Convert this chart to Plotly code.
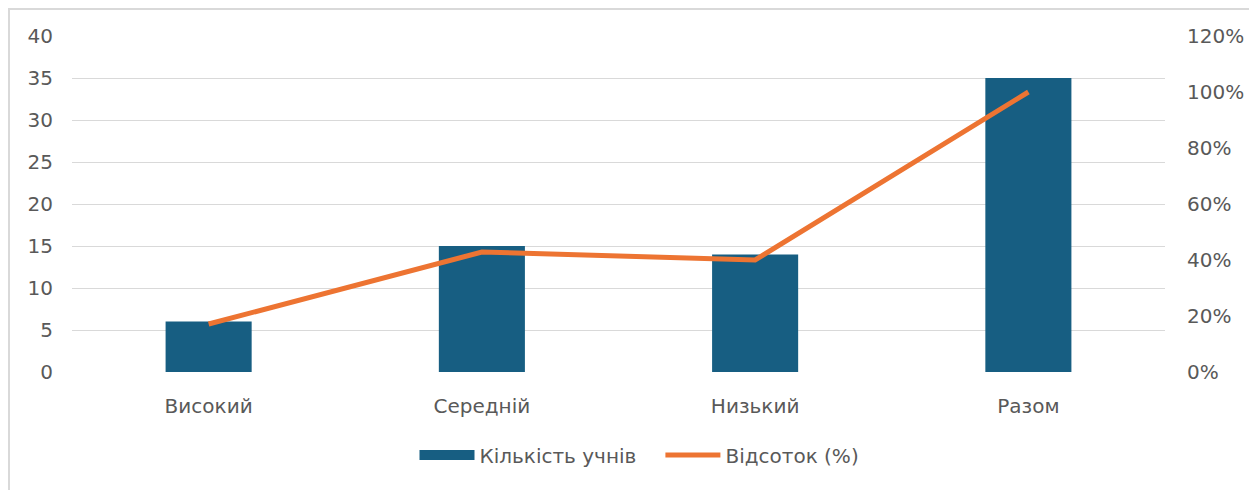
import plotly.graph_objects as go

categories = ["Високий", "Середній", "Низький", "Разом"]
counts = [6, 15, 14, 35]
percents = [6/35, 15/35, 14/35, 1.0]
left_ticks = [0, 5, 10, 15, 20, 25, 30, 35, 40]
right_ticks = [0, 0.2, 0.4, 0.6, 0.8, 1.0, 1.2]

TXT = "#595959"
BAR = "#175e82"
LINE = "#ed7432"
FONT = "DejaVu Sans, Liberation Sans, sans-serif"
FS = 20

fig = go.Figure()
fig.add_trace(go.Bar(x=categories, y=counts, name="Кількість учнів", showlegend=False,
                     marker=dict(color=BAR, line=dict(width=0)), yaxis="y"))
# legend swatch for the bars (wide rectangle like the original)
fig.add_trace(go.Scatter(x=[None], y=[None], mode="lines", name="Кількість учнів   ",
                         line=dict(color=BAR, width=14), yaxis="y"))
fig.add_trace(go.Scatter(x=categories, y=percents, name="Відсоток (%)", mode="lines",
                         line=dict(color=LINE, width=5), yaxis="y2"))

fig.update_layout(
    width=1249, height=482,
    margin=dict(l=64, r=92, t=28, b=118),
    paper_bgcolor="white", plot_bgcolor="white",
    font=dict(family=FONT, size=FS, color=TXT),
    bargap=0.685,
    showlegend=True,
    legend=dict(orientation="h", x=0.5 + 21/1093, xanchor="center", y=-0.247, yanchor="middle",
                font=dict(size=FS, color=TXT), itemwidth=55, traceorder="normal"),
    xaxis=dict(showgrid=False, showline=False, zeroline=False,
               ticks="outside", ticklen=16, tickcolor="rgba(0,0,0,0)",
               tickfont=dict(size=FS, color=TXT)),
    yaxis=dict(range=[0, 40], tickvals=left_ticks, showgrid=True, gridcolor="#d9d9d9",
               gridwidth=1.3, zeroline=False, showline=False,
               ticks="outside", ticklen=14, tickcolor="rgba(0,0,0,0)",
               tickfont=dict(size=FS, color=TXT)),
    yaxis2=dict(range=[0, 1.2], tickvals=right_ticks, tickformat=".0%", overlaying="y",
                side="right", showgrid=False, zeroline=False, showline=False,
                ticks="outside", ticklen=17, tickcolor="rgba(0,0,0,0)",
                tickfont=dict(size=FS, color=TXT)),
    shapes=[dict(type="rect", xref="paper", yref="paper",
                 x0=-64/1093 + 1/1093, x1=1.2, y0=-0.6, y1=1 + 27/336,
                 line=dict(color="#d9d9d9", width=2), fillcolor="rgba(0,0,0,0)", layer="below")],
)

fig.write_html("out.html")
